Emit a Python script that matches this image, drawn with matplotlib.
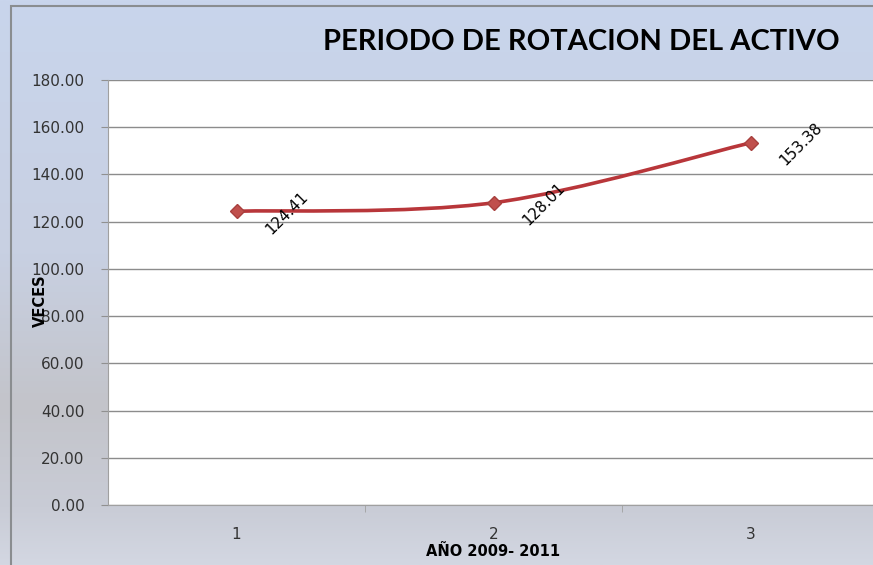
import matplotlib.pyplot as plt
import numpy as np
from matplotlib.colors import LinearSegmentedColormap
from matplotlib.path import Path
from matplotlib.patches import PathPatch, Rectangle

# Serie: periodo de rotacion del activo, 2009-2011
periodos = [1, 2, 3]
veces = [124.41, 128.01, 153.38]
etiquetas = ["124.41", "128.01", "153.38"]
yticks = [0, 20, 40, 60, 80, 100, 120, 140, 160, 180]

LINE_COLOR = "#b8363a"
MARKER_COLOR = "#c0504d"

W, H = 873, 565
fig = plt.figure(figsize=(W / 100, H / 100), dpi=100)

# fondo con degradado vertical (azul arriba, gris abajo)
bg = fig.add_axes([0, 0, 1, 1], zorder=-10)
cmap = LinearSegmentedColormap.from_list(
    "fondo",
    [(0.0, "#c9d5ec"), (0.45, "#c8d0e2"), (0.72, "#c3c4ca"), (0.9, "#c9ccd6"), (1.0, "#d3d7e2")],
)
grad = np.linspace(0, 1, 256).reshape(-1, 1)
bg.imshow(grad, aspect="auto", cmap=cmap, extent=[0, 1, 0, 1], origin="upper")
bg.set_xlim(0, 1)
bg.set_ylim(0, 1)
bg.axis("off")
# marco exterior
bg.add_patch(Rectangle((11 / W, -0.01), 1.0, 1 - 6 / H + 0.01, fill=False,
                       edgecolor="#8a8d90", linewidth=1.5))

left, right, top, bottom = 108, 879, 80, 505
ax = fig.add_axes([left / W, (H - bottom) / H, (right - left) / W, (bottom - top) / H])
ax.set_facecolor("white")
ax.set_xlim(0.5, 3.5)
ax.set_ylim(0, 180)
ax.set_yticks(yticks)
ax.set_yticklabels([f"{v:.2f}" for v in yticks], fontsize=11, color="#333333")
ax.set_xticks(periodos)
ax.set_xticklabels([str(p) for p in periodos], fontsize=11, color="#333333")
ax.set_xticks([1.5, 2.5], minor=True)
ax.tick_params(axis="x", which="major", length=0, pad=16)
ax.tick_params(axis="x", which="minor", length=5, color="#a0a0a0")
ax.tick_params(axis="y", length=5, color="#909090", pad=12)
ax.grid(axis="y", color="#8c8c8c", linewidth=1)
ax.set_axisbelow(True)
for side in ("top", "right"):
    ax.spines[side].set_visible(False)
ax.spines["left"].set_color("#a0a0a0")
ax.spines["bottom"].set_color("#a0a0a0")

# linea suavizada con curvas de Bezier entre los puntos
pts = list(zip(periodos, veces))
verts = [pts[0]]
codes = [Path.MOVETO]
for i in range(len(pts) - 1):
    p0 = pts[max(i - 1, 0)]
    p1 = pts[i]
    p2 = pts[i + 1]
    p3 = pts[min(i + 2, len(pts) - 1)]
    c1 = (p1[0] + (p2[0] - p0[0]) / 6, p1[1] + (p2[1] - p0[1]) / 6)
    c2 = (p2[0] - (p3[0] - p1[0]) / 6, p2[1] - (p3[1] - p1[1]) / 6)
    verts += [c1, c2, p2]
    codes += [Path.CURVE4] * 3
ax.add_patch(PathPatch(Path(verts, codes), facecolor="none", edgecolor=LINE_COLOR,
                       linewidth=2.6, zorder=3))
ax.plot(periodos, veces, linestyle="none", marker="D", markersize=7,
        color=MARKER_COLOR, markeredgecolor="#a8403e", zorder=4)

for x, y, txt in zip(periodos, veces, etiquetas):
    ax.annotate(txt, (x, y), xytext=(36, -1), textcoords="offset points",
                rotation=45, ha="center", va="center", fontsize=11, color="black", zorder=5)

ax.set_xlabel("AÑO 2009- 2011", fontsize=10.5, fontweight="bold", labelpad=1)
ax.set_ylabel("VECES", fontsize=10.5, fontweight="bold")
ax.yaxis.set_label_coords(-60 / (right - left), 0.48)

fig.text(581 / W, 1 - 42 / H, "PERIODO DE ROTACION DEL ACTIVO", fontsize=21,
         fontweight="bold", ha="center", va="center", family="Lato", color="black")

fig.savefig("out.png", dpi=100)
